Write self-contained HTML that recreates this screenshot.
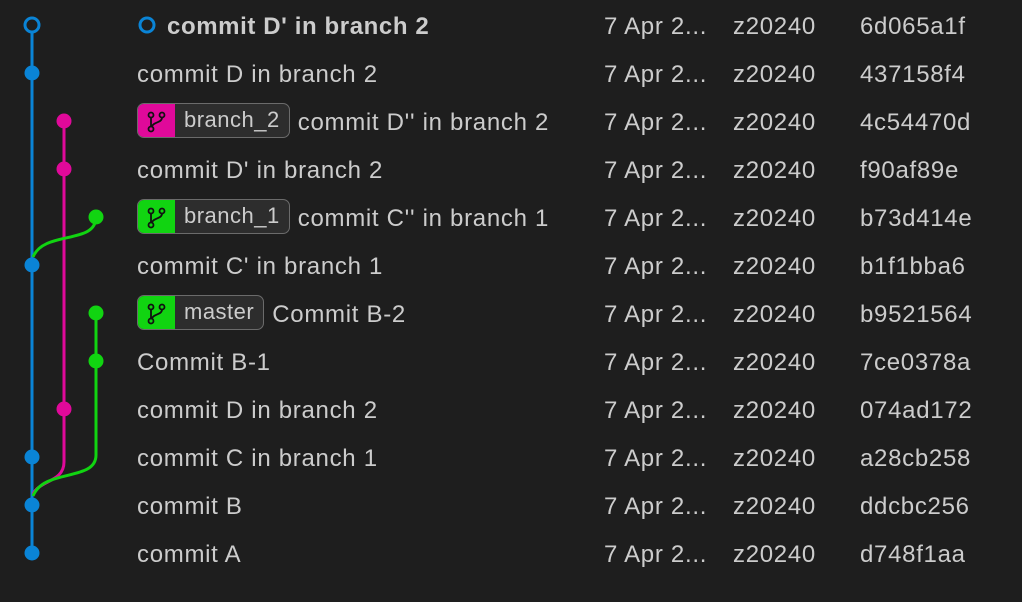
<!DOCTYPE html>
<html><head><meta charset="utf-8"><style>
body{margin:0;width:1022px;height:602px;background:#1e1e1e;overflow:hidden;font-family:"Liberation Sans",sans-serif;color:#cccccc;font-size:24px;letter-spacing:0.7px;position:relative}
.r{position:absolute;left:0;height:48px;line-height:48px;white-space:nowrap}
.m{position:absolute;left:137px}
.d{position:absolute;left:604px}
.a{position:absolute;left:733px}
.h{position:absolute;left:860px}
.b{display:inline-block;vertical-align:middle;height:35px;line-height:32px;border:1.5px solid #6b6b6b;border-radius:7px;background:#2d2d2d;margin-right:8px;overflow:hidden;box-sizing:border-box;position:relative;top:-3px;letter-spacing:0.5px}
.b i{display:inline-block;width:37px;height:35px;vertical-align:top;position:relative}
.b span{padding:0 9px 0 9px;font-size:22px}
svg.g{position:absolute;left:0;top:0}
</style></head><body>
<svg class="g" width="130" height="602">
<g fill="none" stroke-width="3">
<line x1="32" y1="33" x2="32" y2="553" stroke="#0a84d6"/>
<line x1="64" y1="121" x2="64" y2="462" stroke="#e0099a"/>
<path d="M64 462 C64 482 40 480 33 494" stroke="#e0099a"/>
<line x1="96" y1="313" x2="96" y2="455" stroke="#11d411"/>
<path d="M96 455 C96 482 44 468 33 496" stroke="#11d411"/>
<path d="M96 217 C96 245 44 230 33 257" stroke="#11d411"/>
</g>
<circle cx="32" cy="25" r="7" fill="#1e1e1e" stroke="#0a84d6" stroke-width="3"/>
<g fill="#0a84d6"><circle cx="32" cy="73" r="7.5"/><circle cx="32" cy="265" r="7.5"/><circle cx="32" cy="457" r="7.5"/><circle cx="32" cy="505" r="7.5"/><circle cx="32" cy="553" r="7.5"/></g>
<g fill="#e0099a"><circle cx="64" cy="121" r="7.5"/><circle cx="64" cy="169" r="7.5"/><circle cx="64" cy="409" r="7.5"/></g>
<g fill="#11d411"><circle cx="96" cy="217" r="7.5"/><circle cx="96" cy="313" r="7.5"/><circle cx="96" cy="361" r="7.5"/></g>
</svg>
<svg width="0" height="0" style="position:absolute"><defs><g id="ic" fill="none" stroke="#111" stroke-width="1.8"><circle cx="13" cy="11" r="2.5"/><circle cx="24" cy="11" r="2.5"/><circle cx="13" cy="25" r="2.5"/><path d="M13 13.5V22.5M24 13.5C24 19 15 18 14 22.5"/></g></defs></svg>

<div class="r" style="top:3px"><span class="m" style="font-weight:bold;letter-spacing:0.6px"><svg width="22" height="22" style="vertical-align:middle;margin-right:8px;position:relative;top:-3px"><circle cx="10" cy="11" r="7" fill="none" stroke="#0a84d6" stroke-width="3"/></svg>commit D' in branch 2</span><span class="d">7 Apr 2...</span><span class="a">z20240</span><span class="h">6d065a1f</span></div>
<div class="r" style="top:51px"><span class="m">commit D in branch 2</span><span class="d">7 Apr 2...</span><span class="a">z20240</span><span class="h">437158f4</span></div>
<div class="r" style="top:99px"><span class="m"><span class="b"><i style="background:#e0099a"><svg width="37" height="35"><use href="#ic"/></svg></i><span>branch_2</span></span>commit D'' in branch 2</span><span class="d">7 Apr 2...</span><span class="a">z20240</span><span class="h">4c54470d</span></div>
<div class="r" style="top:147px"><span class="m">commit D' in branch 2</span><span class="d">7 Apr 2...</span><span class="a">z20240</span><span class="h">f90af89e</span></div>
<div class="r" style="top:195px"><span class="m"><span class="b"><i style="background:#11d411"><svg width="37" height="35"><use href="#ic"/></svg></i><span>branch_1</span></span>commit C'' in branch 1</span><span class="d">7 Apr 2...</span><span class="a">z20240</span><span class="h">b73d414e</span></div>
<div class="r" style="top:243px"><span class="m">commit C' in branch 1</span><span class="d">7 Apr 2...</span><span class="a">z20240</span><span class="h">b1f1bba6</span></div>
<div class="r" style="top:291px"><span class="m"><span class="b"><i style="background:#11d411"><svg width="37" height="35"><use href="#ic"/></svg></i><span>master</span></span>Commit B-2</span><span class="d">7 Apr 2...</span><span class="a">z20240</span><span class="h">b9521564</span></div>
<div class="r" style="top:339px"><span class="m">Commit B-1</span><span class="d">7 Apr 2...</span><span class="a">z20240</span><span class="h">7ce0378a</span></div>
<div class="r" style="top:387px"><span class="m">commit D in branch 2</span><span class="d">7 Apr 2...</span><span class="a">z20240</span><span class="h">074ad172</span></div>
<div class="r" style="top:435px"><span class="m">commit C in branch 1</span><span class="d">7 Apr 2...</span><span class="a">z20240</span><span class="h">a28cb258</span></div>
<div class="r" style="top:483px"><span class="m">commit B</span><span class="d">7 Apr 2...</span><span class="a">z20240</span><span class="h">ddcbc256</span></div>
<div class="r" style="top:531px"><span class="m">commit A</span><span class="d">7 Apr 2...</span><span class="a">z20240</span><span class="h">d748f1aa</span></div>
</body></html>
